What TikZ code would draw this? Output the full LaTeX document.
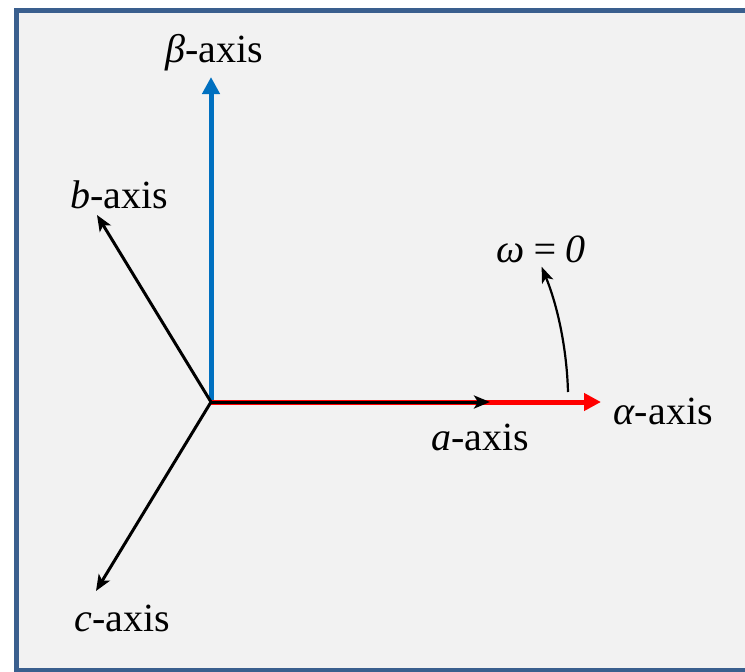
\documentclass[tikz,border=0pt]{standalone}
\usepackage{fontspec}
\setmainfont{Liberation Serif}
\usetikzlibrary{arrows.meta}
\definecolor{framebg}{HTML}{F2F2F2}
\definecolor{frameblue}{HTML}{3A5F8E}
\definecolor{axblue}{HTML}{0070C0}
\definecolor{axred}{HTML}{FF0000}
\tikzset{
  lbl/.style={inner sep=0pt, font=\fontsize{40}{42}\selectfont},
  blackax/.style={line width=3pt, -{Stealth[length=16pt, width=13pt, inset=4pt]}},
  colax/.style={line width=5pt, -{Triangle[length=17pt, width=17pt]}},
  turn/.style={line width=2.2pt, -{Stealth[length=16pt, width=12pt, inset=4pt]}},
}
\begin{document}
\begin{tikzpicture}[x=1pt, y=-1pt]
\useasboundingbox (0,0) rectangle (745,672);
\clip (0,0) rectangle (745,672);
\draw[frameblue, line width=5pt, fill=framebg] (16.5,10.5) rectangle (770,670.5);
\coordinate (O) at (211,402);
\coordinate (betatip) at (211,77);
\coordinate (alphatip) at (601,402);
\coordinate (atip) at (490,402);
\coordinate (btip) at (97,215);
\coordinate (ctip) at (96,591);
\coordinate (wstart) at (568,392);
% axes
\draw[colax, axblue] (O) -- (betatip);
\draw[colax, axred] (O) -- (alphatip);
\draw[blackax] (O) -- (atip);
\draw[blackax] (O) -- (btip);
\draw[blackax] (O) -- (ctip);
% rotation arrow (arc about origin)
\draw[turn] (wstart) arc[start angle=1.6, end angle=22.2, radius=358pt];
% labels
\node[lbl] (lbeta) at (214,53) {\textit{β}-axis};
\node[lbl] (lb) at (119,195) {\textit{b}-axis};
\node[lbl] (lc) at (122,618) {\textit{c}-axis};
\node[lbl] (lalpha) at (663,411) {\textit{α}-axis};
\node[lbl] (la) at (480,437) {\textit{a}-axis};
\node[lbl] (lw) at (541,249) {\textit{ω\,=\,0}};
\end{tikzpicture}
\end{document}
